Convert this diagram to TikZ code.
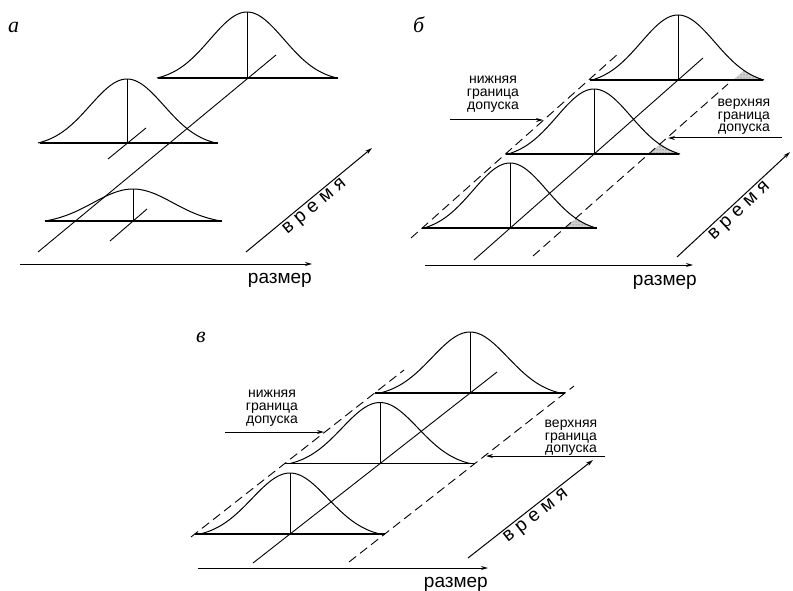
\documentclass[tikz,border=0pt]{standalone}
\usepackage{fontspec}
\setmainfont{Liberation Serif}
\newfontfamily\labfont{Liberation Sans}
\newfontfamily\timefont{Liberation Sans}[LetterSpace=30]
\usetikzlibrary{arrows.meta,patterns}
\newcommand\bellcurve[5]{%
  \draw[curve] plot[domain=-#3:#3,samples=71,smooth] ({#1+\x},{#2-#4*bell(\x,#3,#5)});}
\newcommand\tailfill[2]{%
  \fill[gray!35] ({#1+55},#2) -- plot[domain=66:86,samples=12,smooth] ({#1+\x},{#2-65*bell(\x,86,37)}) -- cycle;
  \fill[pattern=dots,pattern color=gray!50!black] ({#1+55},#2) -- plot[domain=66:86,samples=12,smooth] ({#1+\x},{#2-65*bell(\x,86,37)}) -- cycle;}
\begin{document}
\begin{tikzpicture}[x=1pt,y=-1pt,
  declare function={bell(\d,\w,\s)=(exp(-(\d*\d)/(2*\s*\s))-exp(-(\w*\w)/(2*\s*\s)))/(1-exp(-(\w*\w)/(2*\s*\s)));},
  curve/.style={line width=1pt},
  baseln/.style={line width=1.3pt},
  guide/.style={line width=0.9pt},
  tol/.style={line width=0.9pt,dash pattern=on 9pt off 5pt},
  axis/.style={line width=1pt,-{Stealth[length=7pt,width=4pt]}},
  ptr/.style={line width=1pt,-{Stealth[length=7pt,width=4pt]}},
  panel/.style={font=\fontsize{22}{24}\selectfont\itshape,inner sep=0pt,anchor=base west},
  lab/.style={font=\labfont\fontsize{14}{14}\selectfont,inner sep=0pt,anchor=base},
  sizelab/.style={font=\labfont\fontsize{19}{20}\selectfont,inner sep=0pt,anchor=base east},
  timelab/.style={font=\timefont\fontsize{19}{20}\selectfont,sloped,below,inner sep=2pt}]
\useasboundingbox (0,0) rectangle (793,591);

% ---------------- panel a ----------------
\node[panel] (la) at (8,33) {а};
\bellcurve{247}{78}{90}{66}{37}
\bellcurve{127}{143}{89}{64}{37}
\bellcurve{133}{221}{88}{32}{40}
\coordinate (a1l) at (158,78);  \coordinate (a1r) at (338,78);
\coordinate (a2l) at (40,143);  \coordinate (a2r) at (218,143);
\coordinate (a3l) at (45,221);  \coordinate (a3r) at (222,221);
\draw[baseln] (a1l) -- (a1r);
\draw[baseln] (a2l) -- (a2r);
\draw[baseln] (a3l) -- (a3r);
\draw[curve] (247,12) -- (247,78);
\draw[curve] (127,79) -- (127,143);
\draw[curve] (133,189) -- (133,221);
\coordinate (ag1) at (38,252);  \coordinate (ag2) at (276,55);
\draw[guide] (ag1) -- (ag2);
\coordinate (as1) at (108,159); \coordinate (as2) at (146,128);
\draw[guide] (as1) -- (as2);
\coordinate (at1) at (110,241); \coordinate (at2) at (147,209);
\draw[guide] (at1) -- (at2);
\coordinate (ax1) at (20,264); \coordinate (ax2) at (312,264);
\draw[axis] (ax1) -- (ax2);
\node[sizelab] (sa) at (312,283) {размер};
\coordinate (ay1) at (246,252); \coordinate (ay2) at (372,148);
\draw[axis] (ay1) -- node[timelab,pos=0.5] (ta) {время} (ay2);

% ---------------- panel b ----------------
\node[panel] (lb) at (413,33) {б};
\tailfill{510}{228}
\tailfill{594}{154}
\tailfill{678}{80}
\bellcurve{510}{228}{86}{65}{37}
\bellcurve{594}{154}{86}{65}{37}
\bellcurve{678}{80}{86}{65}{37}
\draw[baseln] (422,228) -- (597,228);
\draw[baseln] (506,154) -- (679,154);
\draw[baseln] (590,80) -- (763,80);
\draw[curve] (510,163) -- (510,228);
\draw[curve] (594,89) -- (594,154);
\draw[curve] (678,15) -- (678,80);
\coordinate (bc1) at (474,260); \coordinate (bc2) at (703,58);
\draw[guide] (bc1) -- (bc2);
\coordinate (bl1) at (411,238); \coordinate (bl2) at (619,53);
\draw[tol] (bl1) -- (bl2);
\coordinate (bu1) at (533,256); \coordinate (bu2) at (728,84);
\draw[tol] (bu1) -- (bu2);
\node[lab] (bn1) at (493,84) {нижняя};
\node[lab] (bn2) at (493,97) {граница};
\node[lab] (bn3) at (493,110) {допуска};
\coordinate (bpa) at (450,120); \coordinate (bpb) at (543,120);
\draw[ptr] (bpa) -- (bpb);
\node[lab] (bv1) at (744,107) {верхняя};
\node[lab] (bv2) at (744,120) {граница};
\node[lab] (bv3) at (744,132) {допуска};
\coordinate (bqa) at (782,138); \coordinate (bqb) at (668,138);
\draw[ptr] (bqa) -- (bqb);
\coordinate (bx1) at (425,265); \coordinate (bx2) at (693,265);
\draw[axis] (bx1) -- (bx2);
\node[sizelab] (sb) at (697,285) {размер};
\coordinate (by1) at (677,257); \coordinate (by2) at (790,152);
\draw[axis] (by1) -- node[timelab,pos=0.5] (tb) {время} (by2);

% ---------------- panel c ----------------
\node[panel] (lc) at (196,342) {в};
\bellcurve{290}{534}{90}{61}{38}
\bellcurve{380}{463.5}{90}{61}{38}
\bellcurve{470}{393}{90}{61}{38}
\draw[baseln] (195,534) -- (385,534);
\draw[baseln] (285,463.5) -- (475,463.5);
\draw[baseln] (375,393) -- (565,393);
\draw[curve] (290,473) -- (290,534);
\draw[curve] (380,402.5) -- (380,463.5);
\draw[curve] (470,332) -- (470,393);
\coordinate (cc1) at (253,563); \coordinate (cc2) at (497,372);
\draw[guide] (cc1) -- (cc2);
\coordinate (cl1) at (191,537); \coordinate (cl2) at (404,370);
\draw[tol] (cl1) -- (cl2);
\coordinate (cu1) at (349,562); \coordinate (cu2) at (574,386);
\draw[tol] (cu1) -- (cu2);
\node[lab] (cn1) at (272,397) {нижняя};
\node[lab] (cn2) at (272,410) {граница};
\node[lab] (cn3) at (272,423) {допуска};
\coordinate (cpa) at (225,432); \coordinate (cpb) at (324,432);
\draw[ptr] (cpa) -- (cpb);
\node[lab] (cv1) at (571,427) {верхняя};
\node[lab] (cv2) at (571,440) {граница};
\node[lab] (cv3) at (571,452) {допуска};
\coordinate (cqa) at (605,456); \coordinate (cqb) at (486,456);
\draw[ptr] (cqa) -- (cqb);
\coordinate (cx1) at (198,568); \coordinate (cx2) at (488,568);
\draw[axis] (cx1) -- (cx2);
\node[sizelab] (sc) at (488,587) {размер};
\coordinate (cy1) at (468,558); \coordinate (cy2) at (593,460);
\draw[axis] (cy1) -- node[timelab,pos=0.5] (tc) {время} (cy2);
\end{tikzpicture}
\end{document}
